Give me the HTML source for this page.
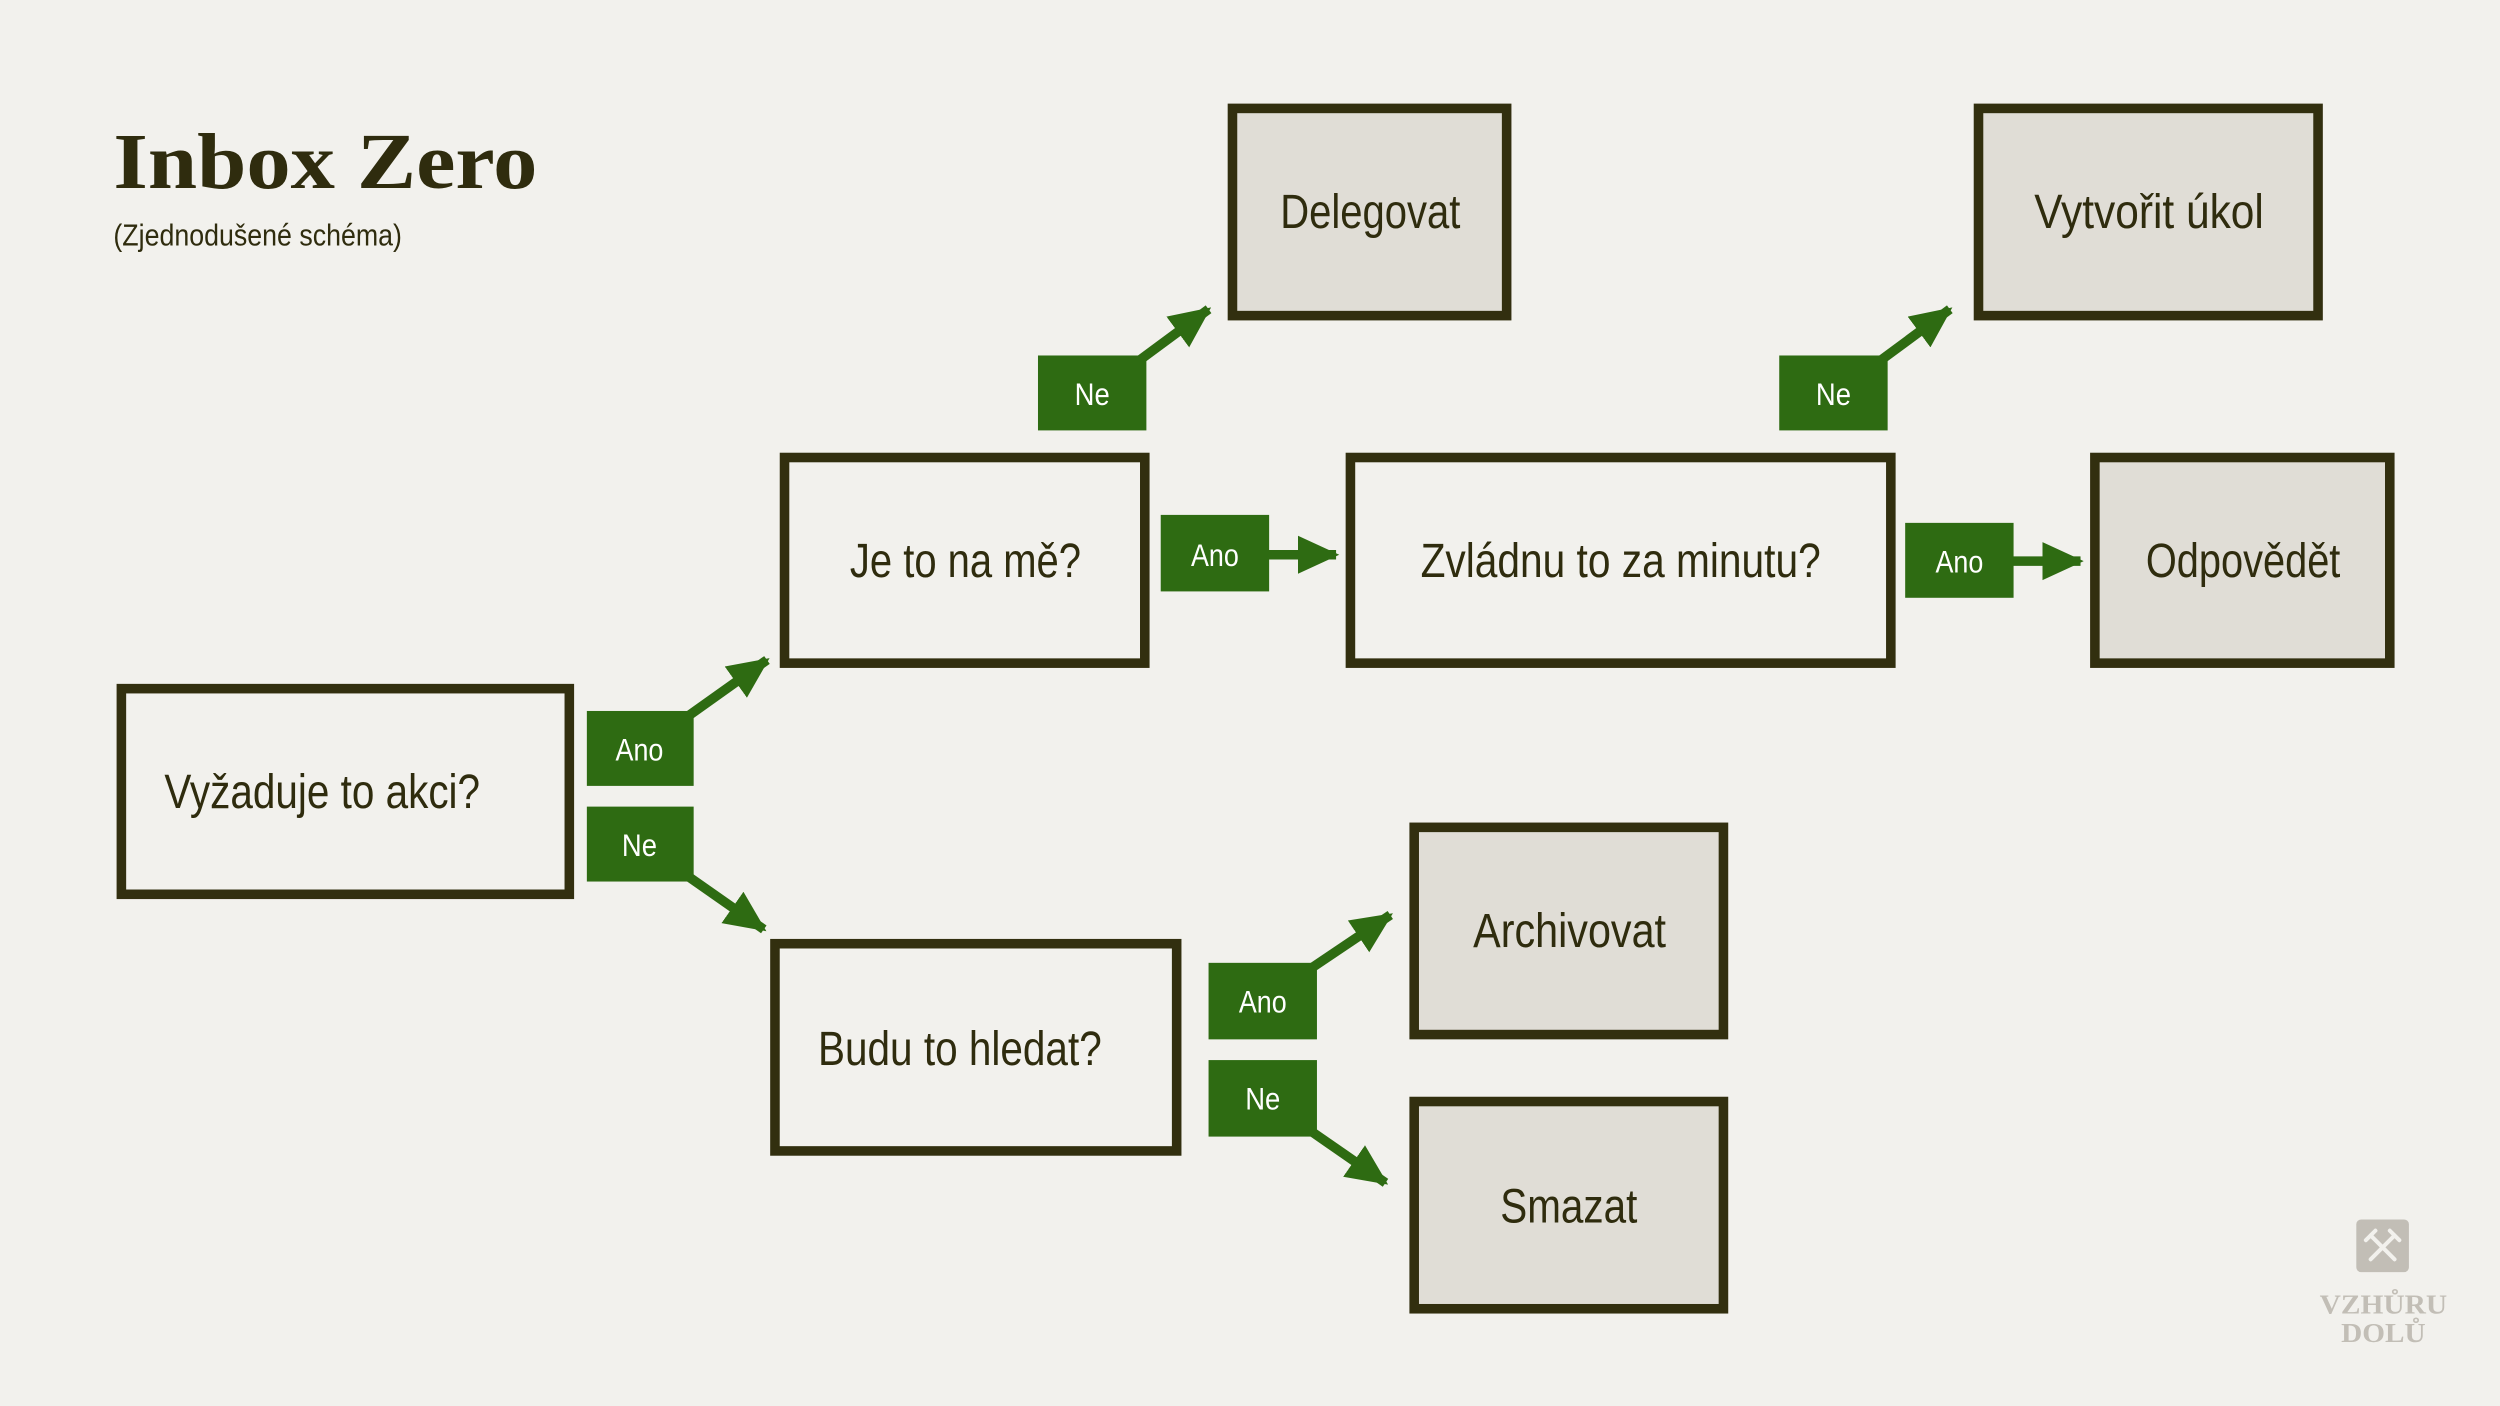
<!DOCTYPE html>
<html><head><meta charset="utf-8"><style>
html,body{margin:0;padding:0;background:#f2f1ed;}
svg{display:block}
text{font-family:"Liberation Sans",sans-serif;}
text.s{font-family:"Liberation Serif",serif;font-weight:bold;}
</style></head><body>
<svg width="2500" height="1406" viewBox="0 0 1568 882" xmlns="http://www.w3.org/2000/svg">
<defs>
<marker id="a" markerUnits="userSpaceOnUse" markerWidth="26" markerHeight="26" refX="24" refY="13" orient="auto">
<polygon points="0,1 26,13 0,25" fill="#2e6b12"/>
</marker>
</defs>
<rect width="1568" height="882" fill="#f2f1ed"/>
<text class="s" x="71" y="118" font-size="50" fill="#2f2c0e" textLength="266" lengthAdjust="spacingAndGlyphs">Inbox Zero</text>
<text x="71" y="154" font-size="19" fill="#2f2c0e" textLength="181" lengthAdjust="spacingAndGlyphs">(Zjednodušené schéma)</text>

<g stroke="#322f0f" stroke-width="6">
<rect x="76" y="432" width="281" height="129" fill="#f2f1ed"/>
<rect x="492" y="287" width="226" height="129" fill="#f2f1ed"/>
<rect x="847" y="287" width="339" height="129" fill="#f2f1ed"/>
<rect x="486" y="592" width="252" height="130" fill="#f2f1ed"/>
<rect x="773" y="68" width="172" height="130" fill="#e0ddd6"/>
<rect x="1241" y="68" width="213" height="130" fill="#e0ddd6"/>
<rect x="1314" y="287" width="185" height="129" fill="#e0ddd6"/>
<rect x="887" y="519" width="194" height="130" fill="#e0ddd6"/>
<rect x="887" y="691" width="194" height="130" fill="#e0ddd6"/>
</g>
<g font-size="30" fill="#2f2c0e">
<text x="103" y="507" textLength="198" lengthAdjust="spacingAndGlyphs">Vyžaduje to akci?</text>
<text x="533" y="362" textLength="145" lengthAdjust="spacingAndGlyphs">Je to na mě?</text>
<text x="891" y="362" textLength="251" lengthAdjust="spacingAndGlyphs">Zvládnu to za minutu?</text>
<text x="513" y="668" textLength="178" lengthAdjust="spacingAndGlyphs">Budu to hledat?</text>
<text x="803" y="143" textLength="113" lengthAdjust="spacingAndGlyphs">Delegovat</text>
<text x="1276" y="143" textLength="144" lengthAdjust="spacingAndGlyphs">Vytvořit úkol</text>
<text x="1346" y="362" textLength="122" lengthAdjust="spacingAndGlyphs">Odpovědět</text>
<text x="924" y="594" textLength="121" lengthAdjust="spacingAndGlyphs">Archivovat</text>
<text x="941" y="767" textLength="86" lengthAdjust="spacingAndGlyphs">Smazat</text>
</g>

<g stroke="#2e6b12" stroke-width="6" marker-end="url(#a)">
<line x1="712" y1="228" x2="758" y2="194"/>
<line x1="1177" y1="228" x2="1223" y2="194"/>
<line x1="792" y1="348" x2="838" y2="348"/>
<line x1="1259" y1="352" x2="1305" y2="352"/>
<line x1="429" y1="451" x2="481" y2="414"/>
<line x1="429" y1="548" x2="479" y2="583"/>
<line x1="820" y1="609" x2="872" y2="574"/>
<line x1="820" y1="708" x2="869" y2="742"/>
</g>
<g fill="#2e6b12">
<rect x="651" y="223" width="68" height="47"/>
<rect x="1116" y="223" width="68" height="47"/>
<rect x="728" y="323" width="68" height="48"/>
<rect x="1195" y="328" width="68" height="47"/>
<rect x="368" y="446" width="67" height="47"/>
<rect x="368" y="506" width="67" height="47"/>
<rect x="758" y="604" width="68" height="48"/>
<rect x="758" y="665" width="68" height="48"/>
</g>
<g font-size="20" fill="#ffffff" text-anchor="middle">
<text x="685" y="254" textLength="22" lengthAdjust="spacingAndGlyphs">Ne</text>
<text x="1150" y="254" textLength="22" lengthAdjust="spacingAndGlyphs">Ne</text>
<text x="762" y="355" textLength="30" lengthAdjust="spacingAndGlyphs">Ano</text>
<text x="1229" y="359" textLength="30" lengthAdjust="spacingAndGlyphs">Ano</text>
<text x="401" y="477" textLength="30" lengthAdjust="spacingAndGlyphs">Ano</text>
<text x="401" y="537" textLength="22" lengthAdjust="spacingAndGlyphs">Ne</text>
<text x="792" y="635" textLength="30" lengthAdjust="spacingAndGlyphs">Ano</text>
<text x="792" y="696" textLength="22" lengthAdjust="spacingAndGlyphs">Ne</text>
</g>

<rect x="1478" y="765" width="33" height="33" rx="3" fill="#c2beb6"/>
<g stroke="#f2f1ed" stroke-width="2.5" stroke-linecap="round">
<line x1="1487" y1="775" x2="1502" y2="790"/>
<line x1="1502" y1="775" x2="1487" y2="790"/>
<line x1="1484" y1="778" x2="1490" y2="772"/>
<line x1="1499" y1="772" x2="1505" y2="778"/>
</g>
<g font-size="17" fill="#c2beb6" text-anchor="middle">
<text class="s" x="1495" y="824" textLength="80" lengthAdjust="spacingAndGlyphs">VZHŮRU</text>
<text class="s" x="1495" y="842" textLength="53" lengthAdjust="spacingAndGlyphs">DOLŮ</text>
</g>
</svg>
</body></html>
